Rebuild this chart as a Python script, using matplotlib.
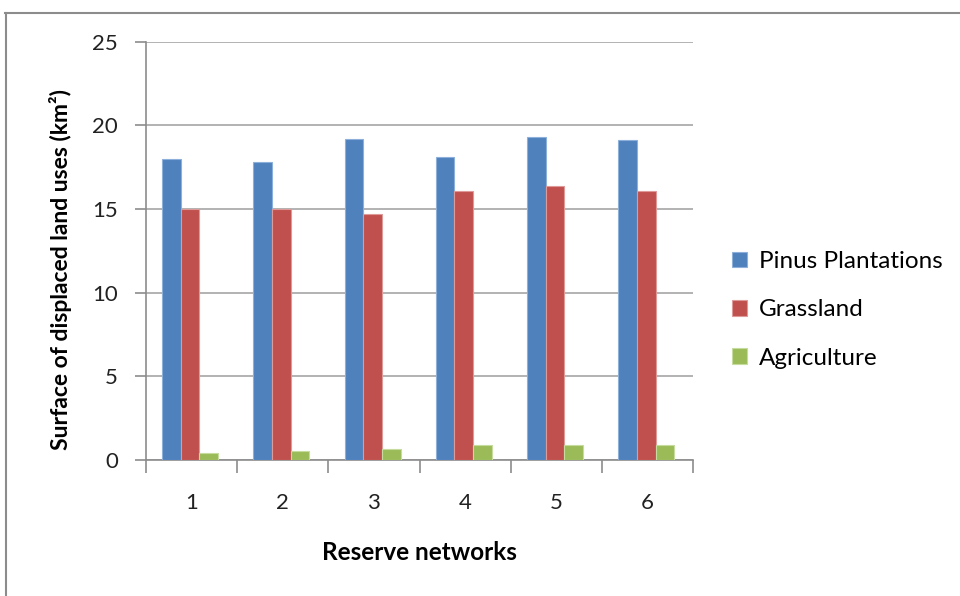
import matplotlib
matplotlib.use("Agg")
import matplotlib.pyplot as plt
from matplotlib.lines import Line2D
import numpy as np

plt.rcParams['font.family'] = ['Lato', 'DejaVu Sans']

networks = ['1', '2', '3', '4', '5', '6']
pinus = [18.0, 17.8, 19.2, 18.1, 19.3, 19.1]
grassland = [15.0, 15.0, 14.7, 16.1, 16.4, 16.1]
agriculture = [0.4, 0.55, 0.64, 0.88, 0.88, 0.88]

series = [
    ('Pinus Plantations', pinus, '#4F81BD', '#8DB0DB'),
    ('Grassland', grassland, '#C0504D', '#DE9A98'),
    ('Agriculture', agriculture, '#9BBB59', '#C6DB9E'),
]

fig = plt.figure(figsize=(9.6, 5.96), dpi=100)
ax = fig.add_axes([0.152, 0.228, 0.570, 0.702])

x = np.arange(len(networks))
width = 0.205
for i, (name, vals, color, edge) in enumerate(series):
    ax.bar(x + (i - 1) * width - 0.015, vals, width, color=color,
           edgecolor=edge, linewidth=0.8, label=name, zorder=3)

ax.set_xlim(-0.5, len(networks) - 0.5)
ax.set_ylim(0, 25)
ax.set_yticks(np.arange(0, 26, 5))
ax.set_xticks(x)
ax.set_xticklabels(networks)
ax.set_xticks(np.arange(-0.5, len(networks), 1), minor=True)

ax.grid(axis='y', color='#A6A6A6', linewidth=1.2, zorder=0)
for s in ['top', 'right']:
    ax.spines[s].set_visible(False)
for s in ['left', 'bottom']:
    ax.spines[s].set_color('#8C8C8C')
    ax.spines[s].set_linewidth(1.2)

ax.tick_params(axis='y', which='major', direction='out', length=8,
               color='#8C8C8C', width=1.2, labelsize=16, pad=12,
               labelcolor='#222222')
ax.tick_params(axis='x', which='major', length=0, labelsize=16, pad=24,
               labelcolor='#222222')
ax.tick_params(axis='x', which='minor', direction='out', length=9,
               color='#8C8C8C', width=1.2)

ax.set_ylabel('Surface of displaced land uses (km²)', fontsize=16.5,
              fontweight='bold')
ax.yaxis.set_label_coords(-0.135, 0.455)
ax.set_xlabel('Reserve networks', fontsize=17.5, fontweight='bold', labelpad=20)

leg = fig.legend(loc='center left', bbox_to_anchor=(0.740, 0.480), frameon=False,
                 fontsize=17.5, handlelength=0.6, handleheight=0.6,
                 handletextpad=0.5, labelspacing=1.12)

# outer chart frame
fig.add_artist(Line2D([0.005, 1.0], [1 - 13 / 596, 1 - 13 / 596],
                      transform=fig.transFigure, color='#8C8C8C', linewidth=1.5))
fig.add_artist(Line2D([6 / 960, 6 / 960], [0.0, 1 - 13 / 596],
                      transform=fig.transFigure, color='#8C8C8C', linewidth=1.5))

fig.savefig('out.png', dpi=100)
